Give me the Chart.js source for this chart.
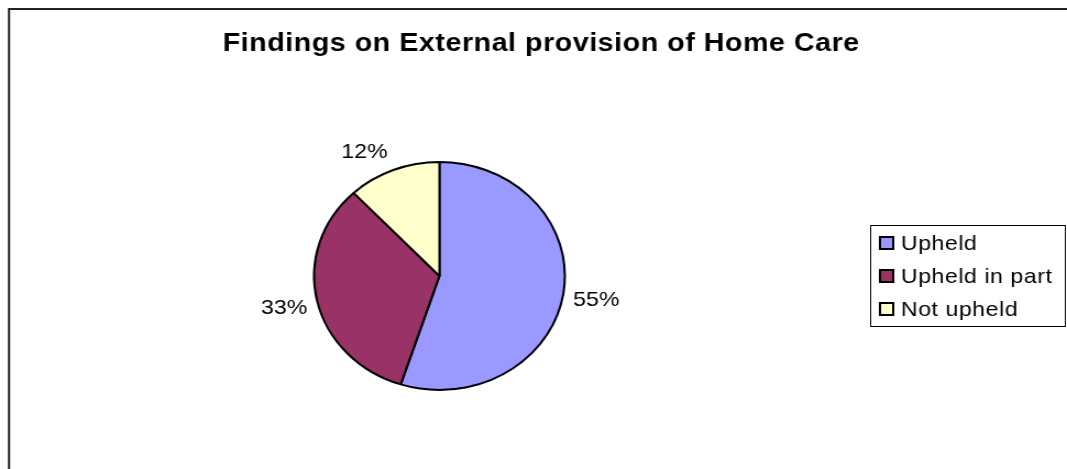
<!DOCTYPE html>
<html>
<head>
<meta charset="utf-8">
<title>Findings on External provision of Home Care</title>
<script src="https://cdn.jsdelivr.net/npm/chart.js@4/dist/chart.umd.min.js"></script>
<style>
  html, body { margin: 0; padding: 0; background: #fff; overflow: hidden; }
  /* the sheet is drawn narrow and widened, like the old spreadsheet export */
  #wrap { width: 970px; height: 469px; transform: scaleX(1.1); transform-origin: 0 0; }
</style>
</head>
<body>
<div id="wrap"><canvas id="findingsChart" width="970" height="469"></canvas></div>
<script>
const TITLE = "Findings on External provision of Home Care";
const categories = ["Upheld", "Upheld in part", "Not upheld"];
const percentages = [55, 33, 12];
const sliceColors = ["#9999FF", "#993366", "#FFFFCC"];

const FONT = "'Liberation Sans', Arial, sans-serif";

// white sheet with the outer chart frame
const framePlugin = {
  id: "frame",
  beforeDraw(chart) {
    const ctx = chart.ctx;
    ctx.save();
    ctx.fillStyle = "#fff";
    ctx.fillRect(0, 0, chart.width, chart.height);
    ctx.strokeStyle = "#222";
    ctx.lineWidth = 2;
    ctx.strokeRect(8.2, 9, 2000, 2000);
    ctx.restore();
  },
};

// title centred on the whole sheet, not just the pie
const sheetTitle = {
  id: "sheetTitle",
  afterDraw(chart) {
    const ctx = chart.ctx;
    ctx.save();
    ctx.font = `bold 26px ${FONT}`;
    ctx.letterSpacing = "0.5px";
    ctx.fillStyle = "#000";
    ctx.textAlign = "center";
    ctx.textBaseline = "alphabetic";
    ctx.fillText(TITLE, 492, 51);
    ctx.restore();
  },
};

// "55%" style labels just outside each slice
const percentLabels = {
  id: "percentLabels",
  afterDatasetsDraw(chart) {
    const ctx = chart.ctx;
    const arcs = chart.getDatasetMeta(0).data;
    const clamp = (v) => Math.max(-1, Math.min(1, v));

    ctx.save();
    ctx.font = `21px ${FONT}`;
    ctx.fillStyle = "#000";
    ctx.textAlign = "center";
    ctx.textBaseline = "alphabetic";

    arcs.forEach((arc, i) => {
      const { x, y, startAngle, endAngle, outerRadius } = arc.getProps(
        ["x", "y", "startAngle", "endAngle", "outerRadius"], true);
      const mid = (startAngle + endAngle) / 2;
      const cos = Math.cos(mid);
      const sin = Math.sin(mid);
      const text = percentages[i] + "%";
      const hw = ctx.measureText(text).width / 2 + 3;
      const hh = 14;
      const r = outerRadius + 6;
      const cx = x + r * cos + hw * clamp(cos * 3);
      const cy = y + r * sin + hh * clamp(sin * 1.5);
      ctx.fillText(text, cx, cy + 7.5);
    });
    ctx.restore();
  },
};

// boxed legend on the right
const boxedLegend = {
  id: "boxedLegend",
  afterDraw(chart) {
    const ctx = chart.ctx;
    ctx.save();
    ctx.strokeStyle = "#000";
    ctx.lineWidth = 1;
    ctx.strokeRect(791.5, 225.5, 177, 101);

    ctx.font = `21px ${FONT}`;
    ctx.letterSpacing = "0.5px";
    ctx.textAlign = "left";
    ctx.textBaseline = "alphabetic";
    categories.forEach((name, i) => {
      const top = 237 + i * 33;
      ctx.fillStyle = sliceColors[i];
      ctx.fillRect(800, top, 12, 12);
      ctx.lineWidth = 2;
      ctx.strokeStyle = "#000";
      ctx.strokeRect(800, top, 12, 12);
      ctx.fillStyle = "#000";
      ctx.fillText(name, 819, top + 12.5);
    });
    ctx.restore();
  },
};

new Chart(document.getElementById("findingsChart"), {
  type: "pie",
  data: {
    labels: categories,
    datasets: [
      {
        data: percentages,
        backgroundColor: sliceColors,
        borderColor: "#000",
        borderWidth: 2,
      },
    ],
  },
  options: {
    responsive: false,
    animation: false,
    events: [],
    layout: { padding: { left: 0, right: 171, top: 161, bottom: 78 } },
    plugins: {
      legend: { display: false },
      tooltip: { enabled: false },
      title: { display: false },
    },
  },
  plugins: [framePlugin, sheetTitle, percentLabels, boxedLegend],
});
</script>
</body>
</html>
